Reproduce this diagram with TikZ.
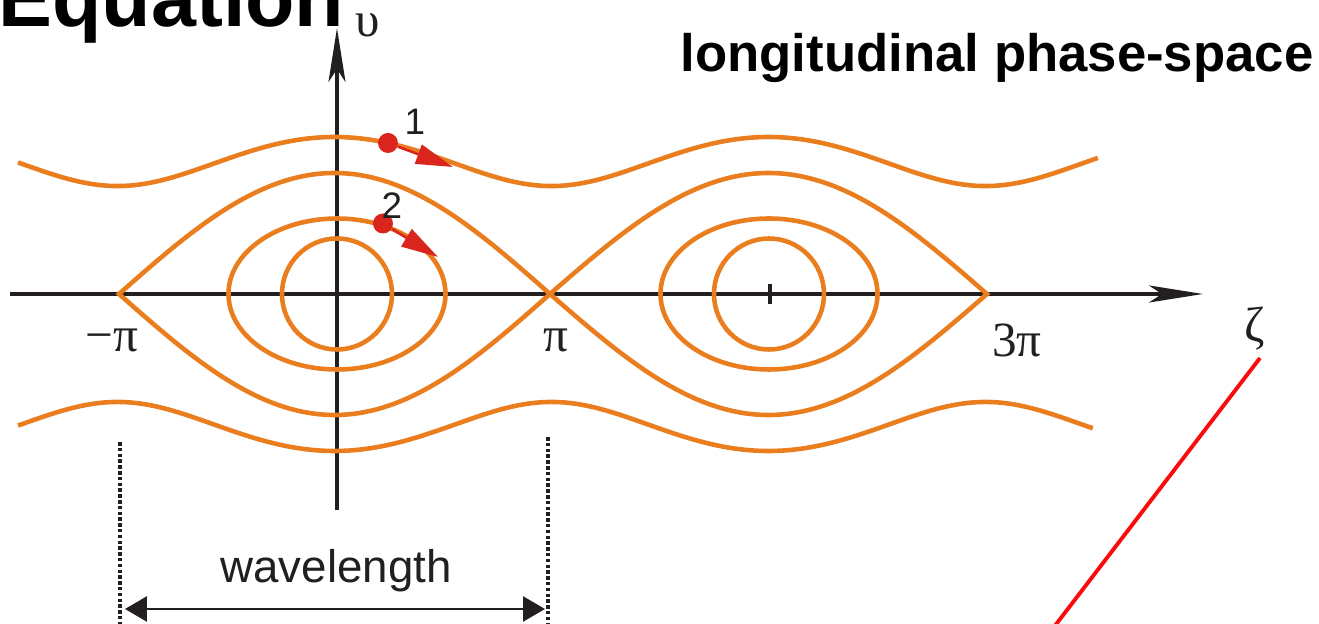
\documentclass[tikz,border=0pt]{standalone}
\usepackage{fontspec}
\setmainfont{Liberation Sans}
\newfontfamily\greekfont{Liberation Serif}
\usetikzlibrary{arrows.meta, positioning}
\definecolor{axisblack}{RGB}{35,31,32}
\definecolor{orbitorange}{RGB}{234,125,30}
\definecolor{markred}{RGB}{218,37,29}
\definecolor{strayred}{RGB}{250,10,10}
\tikzset{
    % Axes
    axisline/.style={line width=1.15pt, draw=axisblack,
                -{Stealth[length=5.4mm, width=1.7mm, inset=1.3mm]}},
    axislbl/.style={font=\greekfont\fontsize{14pt}{16pt}\selectfont,
                text=axisblack, inner sep=0pt},
    % Phase-space orbits
    orbit/.style={line width=1.3pt, draw=orbitorange},
    % Particles
    partdot/.style={circle, fill=markred, minimum size=2mm, inner sep=0pt},
    partarrow/.style={-{Triangle[length=3.7mm, width=2mm]}, line width=0.75pt, markred},
    partlbl/.style={font=\fontsize{10.5pt}{12pt}\selectfont, text=axisblack, inner sep=0pt},
    % Wavelength
    wavedash/.style={line width=1.05pt, axisblack, dash pattern=on 1pt off 0.65pt},
    wavearrow/.style={{Triangle[length=2.2mm, width=2.5mm]}-{Triangle[length=2.2mm, width=2.5mm]},
                line width=0.75pt, axisblack},
    % General
    titletext/.style={font=\fontsize{15pt}{18pt}\selectfont\bfseries, inner sep=0pt},
    strayline/.style={line width=1.1pt, strayred},
}
\begin{document}
\begin{tikzpicture}
\useasboundingbox (-3.37,-3.30) rectangle (9.82,2.94);

% titles
\node[titletext, font=\fontsize{23pt}{27pt}\selectfont\bfseries, anchor=base east] (eq) at (0.08,2.67) {Equation};
\node[titletext, anchor=base west] (lps) at (3.43,2.22) {longitudinal phase-space};

% axes
\coordinate (hstart) at (-3.27,0);
\coordinate (hend) at (8.66,0);
\coordinate (vstart) at (0,-2.16);
\coordinate (vend) at (0,2.66);
\draw[axisline] (hstart) -- (hend);
\draw[axisline] (vstart) -- (vend);
\coordinate (tickt) at (4.33,0.1);
\coordinate (tickb) at (4.33,-0.1);
\draw[line width=1.15pt, axisblack] (tickt) -- (tickb);

\node[axislbl] (upsilon) at (0.31,2.69) {υ};
\node[axislbl] (zeta) at (9.18,-0.35) {ζ};
\node[axislbl] (mpi) at (-2.25,-0.46) {−π};
\node[axislbl] (pi) at (2.19,-0.46) {π};
\node[axislbl] (tpi) at (6.80,-0.46) {3π};

% separatrix
\foreach \cx/\hw in {-0.025/2.155, 4.315/2.185}
  \draw[orbit] plot[domain=-180:180, samples=91, smooth] ({\cx+\hw*\x/180}, {1.21*cos(\x/2)})
    -- plot[domain=180:-180, samples=91, smooth] ({\cx+\hw*\x/180}, {-1.21*cos(\x/2)}) -- cycle;

% closed orbits
\foreach \cx in {0, 4.32} {
  \draw[orbit] (\cx,0) ellipse [x radius=0.55, y radius=0.555];
  \draw[orbit] (\cx,0) ellipse [x radius=1.085, y radius=0.755];
}

% open orbits
\draw[orbit] plot[domain=-3.19:7.61, samples=160, smooth]
  (\x, {sqrt(2.4649-1.2996*(1-cos(180*(\x+0.025)/2.17))/2)});
\draw[orbit] plot[domain=-3.19:7.56, samples=160, smooth]
  (\x, {-sqrt(2.4649-1.2996*(1-cos(180*(\x+0.025)/2.17))/2)});

% particles
\node[partdot] (p1) at (0.51,1.51) {};
\coordinate (p1tip) at (1.16,1.27);
\draw[partarrow] (p1) -- (p1tip);
\node[partlbl] (l1) at (0.78,1.72) {1};
\node[partdot] (p2) at (0.46,0.705) {};
\coordinate (p2tip) at (1.01,0.37);
\draw[partarrow] (p2) -- (p2tip);
\node[partlbl] (l2) at (0.55,0.88) {2};

% wavelength
\coordinate (dlt) at (-2.17,-1.48);
\coordinate (dlb) at (-2.17,-3.30);
\coordinate (drt) at (2.11,-1.43);
\coordinate (drb) at (2.11,-3.30);
\draw[wavedash] (dlt) -- (dlb);
\draw[wavedash] (drt) -- (drb);
\coordinate (wl) at (-2.12,-3.15);
\coordinate (wr) at (2.08,-3.15);
\draw[wavearrow] (wl) -- (wr);
\node[font=\fontsize{13pt}{15pt}\selectfont, text=axisblack, inner sep=0pt, anchor=base] (wave) at (-0.01,-2.89) {wavelength};

% stray line
\coordinate (sa) at (9.23,-0.64);
\coordinate (sb) at (7.17,-3.33);
\draw[strayline] (sa) -- (sb);
\end{tikzpicture}
\end{document}
